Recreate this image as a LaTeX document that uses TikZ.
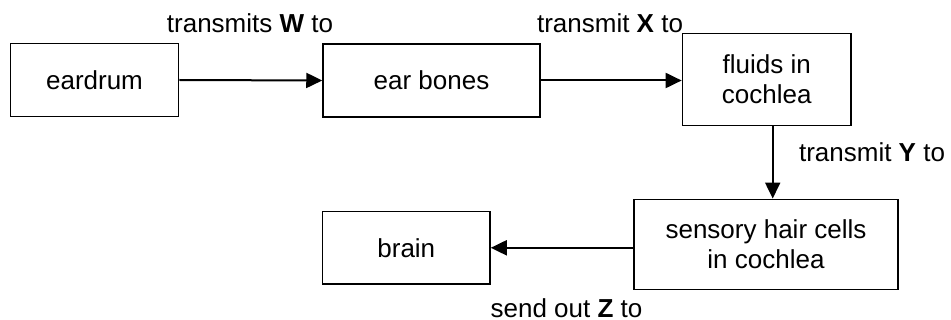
\documentclass[tikz,border=0pt]{standalone}
\usepackage{fontspec}
\setmainfont{Liberation Sans}
\usetikzlibrary{arrows.meta, positioning}

\begin{document}
\begin{tikzpicture}[x=0.5pt, y=-0.5pt,
    box/.style={draw, line width=0.75pt, align=center, inner sep=0pt, font=\fontsize{13pt}{15pt}\selectfont},
    lbl/.style={inner sep=0pt, font=\fontsize{13pt}{15pt}\selectfont},
    flow/.style={line width=1pt, -{Triangle[length=8pt, width=7.5pt]}}]
    \useasboundingbox (0,0) rectangle (951,320);

    % Top row - eardrum to cochlea
    \node[box, minimum width=84pt, minimum height=36.5pt] (eardrum) at (94.5,80) {eardrum};
    \node[box, minimum width=108.5pt, minimum height=36.5pt] (earbones) at (431.5,80.5) {ear bones};
    \node[box, minimum width=84.3pt, minimum height=45.8pt] (fluids) at (766.7,79.5) {fluids in\\cochlea};

    % Bottom row - hair cells and brain
    \node[box, minimum width=132pt, minimum height=45pt] (haircells) at (766,244.3) {sensory hair cells\\in cochlea};
    \node[box, minimum width=83.7pt, minimum height=36.2pt] (brain) at (406.3,247.8) {brain};

    % Connectors
    \draw[flow] (eardrum.east) -- (earbones.west);
    \draw[flow] (earbones.east) -- (earbones.east -| fluids.west);
    \draw[flow] ([xshift=3pt]fluids.south) -- ([xshift=3pt]fluids.south |- haircells.north);
    \draw[flow] (haircells.west |- brain.east) -- (brain.east);

    % Labels
    \node[lbl] (lblW) at (250,23) {transmits \textbf{W} to};
    \node[lbl] (lblX) at (610,23) {transmit \textbf{X} to};
    \node[lbl] (lblY) at (872,152) {transmit \textbf{Y} to};
    \node[lbl] (lblZ) at (566.5,308) {send out \textbf{Z} to};
\end{tikzpicture}
\end{document}
